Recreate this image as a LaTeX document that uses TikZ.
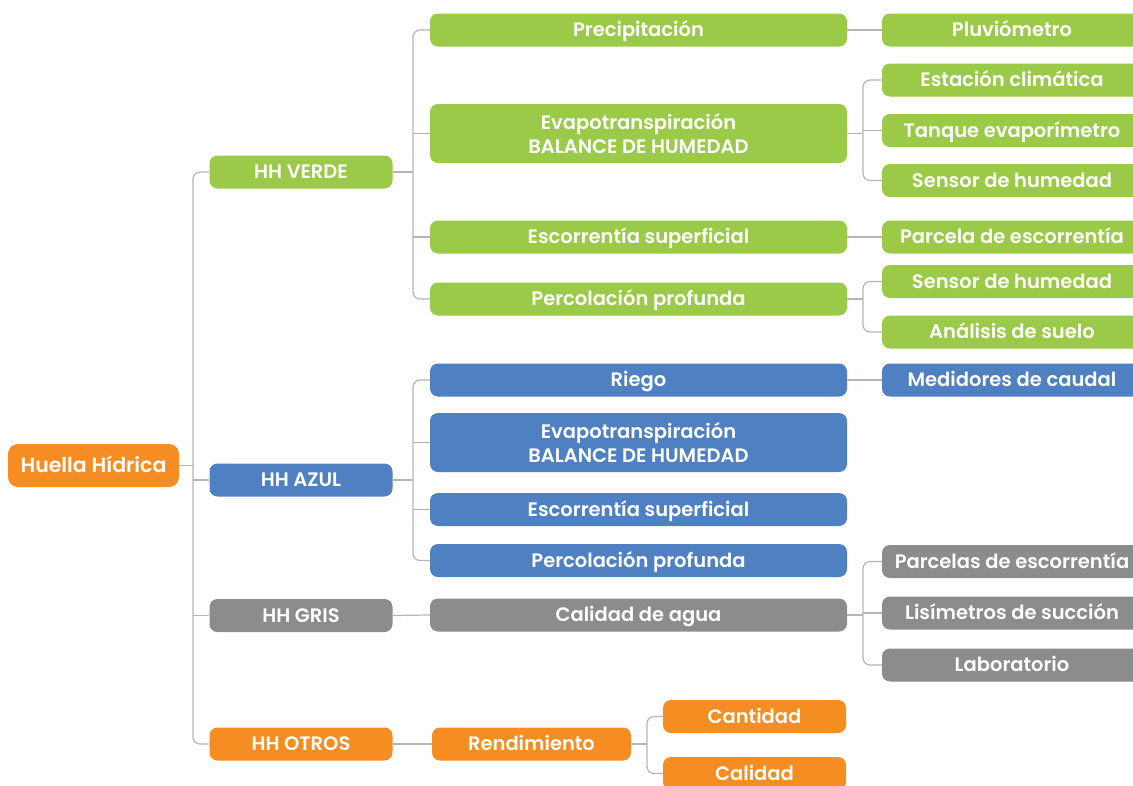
\documentclass[tikz,border=0pt]{standalone}
\usepackage{fontspec}
\setmainfont{Poppins}[BoldFont={Poppins SemiBold}]
\definecolor{cgreen}{HTML}{9BC948}
\definecolor{cblue}{HTML}{4E80C2}
\definecolor{cgray}{HTML}{8B8C8E}
\definecolor{corange}{HTML}{F58D22}
\definecolor{cline}{HTML}{B5B5B5}
\tikzset{
  box/.style={rounded corners=8pt, text=white, font=\fontsize{19.5}{24}\selectfont\bfseries, align=center, inner sep=0pt, minimum height=33pt, text height=15pt, text depth=1.4pt},
  twoline/.style={text height={}, text depth={}, minimum height=59pt},
  gbox/.style={box, fill=cgreen},
  bbox/.style={box, fill=cblue},
  ybox/.style={box, fill=cgray},
  obox/.style={box, fill=corange},
  conn/.style={draw=cline, line width=1.2pt},
  rconn/.style={conn, rounded corners=7pt},
}
\begin{document}
\begin{tikzpicture}[x=1pt,y=-1pt]
\useasboundingbox (0,0) rectangle (1133,785);
\clip (0,0) rectangle (1133,785);
% root
\node[obox, minimum width=171pt, minimum height=43pt, rounded corners=10pt, font=\fontsize{20.5}{24}\selectfont\bfseries] (root) at (93.5,465.5) {Huella Hídrica};
% level 1
\node[gbox, minimum width=183pt] (verde) at (301,172) {HH VERDE};
\node[bbox, minimum width=183pt] (azul) at (301,480) {HH AZUL};
\node[ybox, minimum width=183pt] (gris) at (301,615.5) {HH GRIS};
\node[obox, minimum width=183pt] (otros) at (301,744) {HH OTROS};
% level 2 green
\node[gbox, minimum width=417pt] (prec) at (638.5,30) {Precipitación};
\node[gbox, twoline, minimum width=417pt] (evap) at (638.5,133.5) {Evapotranspiración\\BALANCE DE HUMEDAD};
\node[gbox, minimum width=417pt] (esc) at (638.5,237) {Escorrentía superficial};
\node[gbox, minimum width=417pt] (perc) at (638.5,299) {Percolación profunda};
% level 2 blue
\node[bbox, minimum width=417pt] (riego) at (638.5,380) {Riego};
\node[bbox, twoline, minimum width=417pt] (evapb) at (638.5,442.5) {Evapotranspiración\\BALANCE DE HUMEDAD};
\node[bbox, minimum width=417pt] (escb) at (638.5,509.5) {Escorrentía superficial};
\node[bbox, minimum width=417pt] (percb) at (638.5,560.5) {Percolación profunda};
% level 2 gray
\node[ybox, minimum width=417pt] (cal) at (638.5,615) {Calidad de agua};
% level 2 orange
\node[obox, minimum width=199pt] (rend) at (531.5,744) {Rendimiento};
\node[obox, minimum width=183pt] (cant) at (754.5,716.5) {Cantidad};
\node[obox, minimum width=183pt] (cali) at (754.5,773.5) {Calidad};
% level 3
\node[gbox, minimum width=260pt] (pluv) at (1012,30) {Pluviómetro};
\node[gbox, minimum width=260pt] (est) at (1012,80) {Estación climática};
\node[gbox, minimum width=260pt] (tanq) at (1012,130.5) {Tanque evaporímetro};
\node[gbox, minimum width=260pt] (sens) at (1012,180.5) {Sensor de humedad};
\node[gbox, minimum width=260pt] (parc) at (1012,237) {Parcela de escorrentía};
\node[gbox, minimum width=260pt] (sens2) at (1012,281.5) {Sensor de humedad};
\node[gbox, minimum width=260pt] (anal) at (1012,332) {Análisis de suelo};
\node[bbox, minimum width=260pt] (med) at (1012,380) {Medidores de caudal};
\node[ybox, minimum width=260pt] (pes) at (1012,561.5) {Parcelas de escorrentía};
\node[ybox, minimum width=260pt] (lis) at (1012,613) {Lisímetros de succión};
\node[ybox, minimum width=260pt] (lab) at (1012,665) {Laboratorio};
% buses
\coordinate (b0) at (193,0);
\coordinate (b1) at (413,0);
\coordinate (b2) at (863,0);
\coordinate (b3) at (647,0);
% root connectors
\draw[conn] (root.east) -- (root.east -| b0);
\draw[rconn] (verde.west) -- (verde.west -| b0) -- (otros.west -| b0) -- (otros.west);
\draw[conn] (azul.west) -- (azul.west -| b0);
\draw[conn] (gris.west) -- (gris.west -| b0);
% verde
\draw[conn] (verde.east) -- (verde.east -| b1);
\draw[rconn] (prec.west) -- (prec.west -| b1) -- (perc.west -| b1) -- (perc.west);
\draw[conn] (evap.west) -- (evap.west -| b1);
\draw[conn] (esc.west) -- (esc.west -| b1);
% azul
\draw[conn] (azul.east) -- (azul.east -| b1);
\draw[rconn] (riego.west) -- (riego.west -| b1) -- (percb.west -| b1) -- (percb.west);
\draw[conn] (evapb.west) -- (evapb.west -| b1);
\draw[conn] (escb.west) -- (escb.west -| b1);
% gris
\draw[conn] (gris.east) -- (cal.west);
% otros
\draw[conn] (otros.east) -- (rend.west);
\draw[conn] (rend.east) -- (rend.east -| b3);
\draw[rconn] (cant.west) -- (cant.west -| b3) -- (cali.west -| b3) -- (cali.west);
% level 3 connectors
\draw[conn] (prec.east) -- (pluv.west);
\draw[conn] (evap.east) -- (evap.east -| b2);
\draw[rconn] (est.west) -- (est.west -| b2) -- (sens.west -| b2) -- (sens.west);
\draw[conn] (tanq.west) -- (tanq.west -| b2);
\draw[conn] (esc.east) -- (parc.west);
\draw[conn] (perc.east) -- (perc.east -| b2);
\draw[rconn] (sens2.west) -- (sens2.west -| b2) -- (anal.west -| b2) -- (anal.west);
\draw[conn] (riego.east) -- (med.west);
\draw[conn] (cal.east) -- (cal.east -| b2);
\draw[rconn] (pes.west) -- (pes.west -| b2) -- (lab.west -| b2) -- (lab.west);
\draw[conn] (lis.west) -- (lis.west -| b2);
\end{tikzpicture}
\end{document}
